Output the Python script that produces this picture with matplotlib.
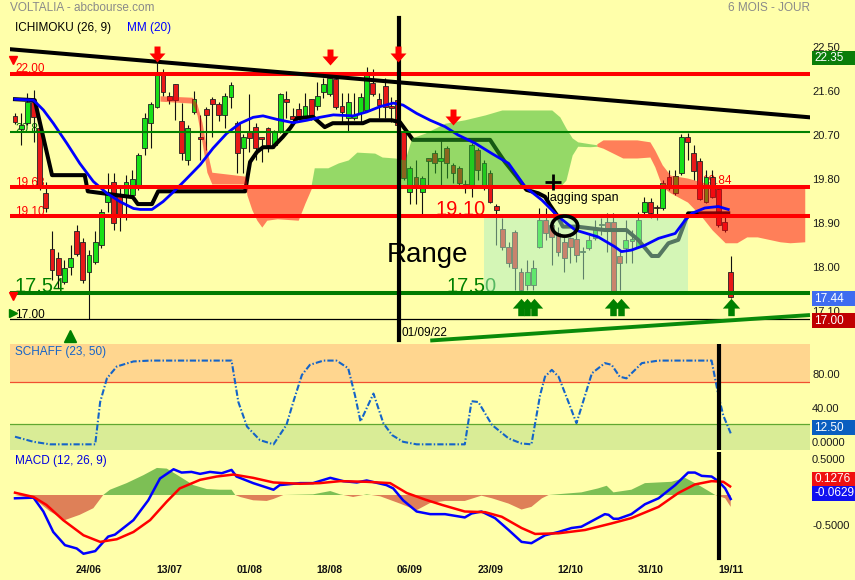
import numpy as np
import matplotlib
matplotlib.use('Agg')
import matplotlib.pyplot as plt
from matplotlib.path import Path
from matplotlib.patches import Rectangle, Ellipse
import matplotlib.transforms as mtransforms

plt.rcParams['font.family'] = ['Liberation Sans', 'DejaVu Sans']

# ---------------- data ----------------
tick_pos = [12, 25, 38, 51, 64, 77, 90, 103, 116]
tick_labels = ['24/06', '13/07', '01/08', '18/08', '06/09', '23/09', '12/10', '31/10', '19/11']

opens = [21.14, 20.87, 20.99, 21.43, 20.89, 19.57, 18.42, 18.23, 17.75, 18.06,
         18.78, 18.57, 17.96, 18.16, 18.50, 19.39, 19.78, 19.52, 19.52, 19.52,
         19.66, 20.48, 20.99, 21.33, 22.01, 21.54, 21.79, 21.03, 20.24, 21.22,
         20.70, 21.27, 21.48, 21.38, 21.16, 21.53, 20.99, 20.48, 20.82, 20.92,
         20.70, 20.89, 20.54, 20.82, 21.48, 21.14, 21.27, 21.14, 21.48, 21.34,
         21.63, 21.58, 21.89, 21.34, 21.09, 21.09, 21.19, 21.26, 21.82, 21.48,
         21.75, 21.34, 21.46, 20.82, 19.59, 19.89, 19.59, 20.27, 20.39, 20.22,
         20.48, 20.14, 20.07, 19.75, 19.69, 20.44, 19.69, 19.97, 19.30, 18.84,
         18.47, 18.76, 17.96, 17.69, 17.69, 18.47, 19.01, 18.91, 18.74, 18.57,
         18.64, 18.62, 18.37, 18.44, 18.64, 18.91, 18.98, 18.98, 18.27, 18.44,
         18.58, 18.47, 19.18, 19.38, 19.29, 19.25, 19.89, 19.57, 19.97, 20.71,
         20.38, 20.22, 19.39, 19.89, 19.64, 18.97, 17.96]
highs = [21.20, 21.20, 21.60, 21.67, 20.92, 19.80, 18.78, 18.37, 18.20, 18.50,
         18.91, 18.65, 18.40, 18.78, 19.24, 19.97, 19.97, 19.66, 19.93, 20.03,
         20.38, 21.19, 21.43, 22.22, 22.09, 21.63, 21.79, 21.40, 20.95, 21.65,
         21.16, 21.32, 21.52, 21.42, 21.61, 21.83, 21.03, 20.77, 21.59, 20.99,
         20.70, 20.92, 20.85, 21.61, 21.65, 21.30, 21.40, 21.61, 21.48, 21.84,
         21.91, 22.01, 21.91, 21.60, 21.60, 21.60, 21.60, 22.14, 22.09, 21.60,
         21.91, 21.53, 21.56, 20.85, 20.12, 20.24, 19.91, 20.27, 20.44, 20.68,
         20.52, 20.18, 20.12, 19.83, 20.59, 20.48, 20.24, 20.03, 19.34, 19.05,
         18.57, 18.81, 18.03, 18.20, 18.20, 19.25, 19.25, 18.97, 18.88, 18.67,
         18.67, 18.81, 18.47, 18.71, 19.01, 19.05, 19.16, 19.16, 18.40, 19.01,
         18.81, 19.18, 19.49, 19.46, 19.32, 19.83, 20.03, 20.03, 20.77, 20.78,
         20.54, 20.28, 20.03, 20.03, 19.71, 19.08, 18.27]
lows = [20.97, 20.54, 20.95, 20.61, 19.63, 19.18, 17.79, 17.63, 17.71, 17.89,
        18.28, 17.73, 16.99, 18.12, 18.44, 19.18, 18.81, 18.78, 19.01, 19.48,
        19.63, 20.34, 20.48, 21.30, 21.54, 21.38, 21.05, 20.24, 20.14, 21.18,
        20.24, 20.44, 20.71, 21.03, 20.89, 21.30, 19.97, 19.97, 20.41, 20.24,
        20.20, 20.41, 20.48, 20.79, 21.09, 20.95, 21.05, 21.10, 21.05, 21.26,
        21.50, 21.54, 21.28, 21.02, 20.84, 21.05, 21.02, 21.22, 21.54, 21.09,
        21.09, 21.02, 20.85, 19.83, 19.35, 19.35, 19.12, 19.73, 19.97, 19.73,
        19.87, 19.77, 19.71, 19.56, 19.49, 19.83, 19.63, 19.36, 18.50, 18.40,
        18.06, 17.59, 17.55, 17.59, 17.59, 18.44, 18.61, 18.10, 18.27, 17.96,
        18.14, 18.16, 17.82, 18.40, 18.61, 18.71, 18.37, 17.54, 17.59, 18.14,
        18.13, 18.44, 19.12, 19.05, 19.01, 19.22, 19.63, 19.52, 19.93, 20.24,
        19.83, 19.42, 19.36, 19.46, 18.87, 18.77, 17.42]
closes = [21.02, 20.95, 21.43, 21.12, 19.66, 19.25, 17.99, 17.89, 18.03, 18.23,
          18.33, 17.79, 18.30, 18.57, 19.18, 19.56, 18.96, 19.12, 19.80, 19.85,
          20.34, 21.09, 21.38, 21.98, 21.63, 21.46, 21.46, 20.38, 20.89, 21.48,
          20.67, 21.16, 21.38, 21.16, 21.54, 21.78, 20.38, 20.71, 20.68, 20.48,
          20.67, 20.54, 20.82, 21.58, 21.43, 21.08, 21.14, 21.34, 21.14, 21.54,
          21.79, 21.91, 21.33, 21.22, 21.43, 21.16, 21.53, 22.01, 21.58, 21.36,
          21.33, 21.31, 20.95, 19.87, 20.07, 19.73, 19.87, 20.22, 20.17, 20.27,
          20.17, 19.97, 19.76, 19.72, 20.54, 20.03, 20.17, 19.39, 19.22, 18.47,
          18.14, 18.03, 17.59, 17.96, 18.03, 19.01, 18.74, 18.67, 18.37, 18.23,
          18.47, 18.30, 18.39, 18.61, 18.84, 18.93, 18.84, 17.55, 18.13, 18.61,
          18.63, 19.01, 19.38, 19.16, 19.25, 19.76, 19.66, 19.91, 20.71, 20.61,
          20.02, 19.45, 19.89, 19.49, 18.91, 18.81, 17.44]

kijun_x = [0, 3.2, 6.0, 11.3, 11.8, 19.1, 19.9, 22.2, 23.2, 37.3, 38.1, 39.2, 40.2, 41.8,
           43.4, 44.6, 45.7, 48.3, 50.2, 51.5, 56.4, 57.5, 61.1, 62.4, 64.5, 77.0, 78.1,
           79.4, 81.3, 82.9, 84.8, 85.9, 86.7, 87.8, 88.8, 91.0, 95.6, 99.1, 101.0, 103.2,
           104.3, 105.9, 107.5, 109.1, 115.6]
kijun_y = [21.48, 21.46, 19.93, 19.93, 19.60, 19.48, 19.34, 19.34, 19.60, 19.60, 20.20,
           20.40, 20.50, 20.50, 20.71, 20.89, 21.09, 21.12, 20.91, 20.99, 20.99, 21.05,
           21.05, 21.01, 20.65, 20.65, 20.44, 20.20, 19.90, 19.63, 19.56, 19.49, 19.32,
           19.12, 18.88, 18.88, 18.81, 18.81, 18.61, 18.28, 18.28, 18.54, 18.61, 19.15, 19.15]

ma_x = [0, 3.0, 4.6, 6.2, 8.4, 10.5, 12.7, 14.9, 17.0, 19.2, 20.3, 22.2, 24.0, 25.7,
        27.6, 30.0, 32.1, 34.3, 36.5, 38.6, 40.2, 42.4, 45.1, 47.3, 49.4, 51.6, 54.8,
        57.0, 59.2, 61.3, 62.9, 65.1, 67.3, 69.7, 71.8, 74.6, 77.3, 80.0, 82.7, 85.4,
        88.1, 90.8, 94.5, 97.2, 98.3, 99.9, 102.1, 104.3, 107.0, 108.6, 109.7, 111.8,
        114.0, 115.6]
ma_y = [21.48, 21.46, 21.26, 20.99, 20.58, 20.17, 19.80, 19.56, 19.39, 19.25, 19.23,
        19.23, 19.39, 19.59, 19.83, 20.14, 20.48, 20.78, 20.99, 21.11, 21.14, 21.07,
        21.00, 21.05, 21.11, 21.16, 21.14, 21.22, 21.33, 21.40, 21.36, 21.19, 21.05,
        20.92, 20.75, 20.58, 20.37, 20.17, 19.69, 19.42, 19.08, 18.81, 18.67, 18.47,
        18.37, 18.40, 18.50, 18.64, 18.74, 19.01, 19.15, 19.26, 19.29, 19.23]

# Ichimoku cloud segments (x, upper span, lower span)
red1_x = [23.5, 28.7, 29.5, 30.3, 31.1, 31.9, 37.3, 37.6, 38.4, 39.2, 40.0, 40.8, 42.5, 45.9, 47.0, 48.0]
red1_hi = [21.55, 21.52, 21.38, 21.01, 20.44, 19.99, 19.91, 19.71, 19.69, 19.69, 19.69, 19.69, 19.69, 19.69, 19.69, 19.69]
red1_lo = [21.44, 21.40, 21.16, 20.61, 19.99, 19.75, 19.75, 19.52, 19.22, 19.01, 18.87, 19.01, 19.04, 19.01, 19.36, 19.65]
green_x = [48.0, 48.5, 50.7, 52.4, 54.0, 55.4, 58.3, 59.5, 61.6, 63.2, 64.3, 66.5, 69.7, 72.9,
           76.2, 78.9, 87.0, 88.3, 89.3, 90.3, 91.2, 93.2, 94.3]
green_hi = [19.73, 20.08, 20.08, 20.18, 20.24, 20.40, 20.38, 20.30, 20.28, 20.24, 20.69, 20.79,
            20.99, 21.06, 21.16, 21.26, 21.26, 21.12, 20.89, 20.69, 20.61, 20.57, 20.55]
green_lo = [19.69, 19.69, 19.69, 19.69, 19.69, 19.69, 19.69, 19.69, 19.69, 19.69, 19.69, 19.69,
            19.69, 19.69, 19.69, 19.69, 19.69, 19.69, 19.83, 20.34, 20.52, 20.51, 20.52]
red2_x = [94.3, 95.3, 98.5, 100.8, 102.9, 103.7, 104.9, 106.2, 109.0, 111.3, 113.0, 115.1,
          117.0, 118.6, 120.3, 124.0, 125.6, 128.0]
red2_hi = [20.57, 20.65, 20.65, 20.65, 20.61, 20.44, 20.14, 19.93, 19.87, 19.79, 19.73, 19.67,
           19.67, 19.67, 19.67, 19.67, 19.67, 19.67]
red2_lo = [20.52, 20.48, 20.28, 20.28, 20.30, 20.10, 19.69, 19.57, 19.38, 19.08, 18.81, 18.55,
           18.55, 18.67, 18.67, 18.57, 18.55, 18.57]

red_levels = [22.00, 19.68, 19.10]
green_thin_level = 20.81
green_thick_level = 17.52
black_level = 17.00
range_box = (76.0, 109.1, 17.54, 19.10)
down_trend = ([-0.81, 128.85], [22.50, 21.11])
up_trend = ([67.3, 128.85], [16.555, 17.075])

sell_x = [23.0, 51.05, 62.07, 71.04]
sell_y = [22.40, 22.35, 22.40, 21.11]
buy_x = [82.0, 83.0, 84.1, 96.9, 98.2, 116.0]
buy_y = [17.23, 17.23, 17.23, 17.23, 17.23, 17.23]

schaff_x = [0, 3.0, 5.7, 13.0, 13.8, 14.9, 16.5, 19.2, 21.9, 35.1, 36.2, 37.6, 39.7, 41.9,
            44.0, 45.1, 46.5, 47.8, 50.0, 52.1, 54.0, 55.1, 56.0, 58.1, 59.7, 61.1, 62.9,
            65.1, 72.9, 74.0, 75.1, 77.3, 80.0, 82.1, 83.7, 85.1, 85.9, 87.0, 88.1, 89.7,
            91.0, 92.4, 93.5, 95.6, 96.7, 98.0, 99.1, 101.6, 104.3, 107.5, 112.9, 114.0,
            114.8, 116.0]
schaff_v = [10, 4, 1, 1, 51, 79, 93, 99, 100, 100, 51, 22, 6, 1, 24, 51, 83, 95, 100, 100,
            91, 59, 28, 61, 26, 12, 4, 1, 1, 52, 51, 24, 8, 2, 1, 59, 81, 89, 81, 51, 26, 59,
            85, 97, 95, 81, 79, 97, 100, 100, 100, 59, 35, 14]

macd_x = [0, 3.0, 4.6, 6.2, 8.1, 10.0, 11.1, 13.0, 15.1, 16.2, 19.2, 21.6, 23.5, 25.7, 27.0,
          28.6, 30.0, 31.6, 33.5, 35.1, 35.9, 38.6, 41.9, 42.9, 46.2, 48.3, 51.1, 53.2, 55.4,
          57.0, 60.2, 61.3, 62.9, 65.1, 67.3, 69.7, 72.9, 74.0, 75.6, 77.8, 80.0, 82.1, 83.7,
          85.9, 88.1, 90.2, 91.8, 94.0, 95.6, 96.2, 97.0, 97.8, 99.9, 102.1, 104.3, 107.0,
          109.1, 110.2, 111.3, 112.9, 114.0, 115.1, 116.0]
macd_v = [-0.05, -0.04, -0.25, -0.56, -0.76, -0.81, -0.89, -0.85, -0.63, -0.60, -0.38, -0.08,
          0.25, 0.39, 0.34, 0.35, 0.32, 0.35, 0.33, 0.38, 0.28, 0.18, 0.08, 0.15, 0.18, 0.18,
          0.26, 0.21, 0.19, 0.22, 0.15, 0.10, -0.08, -0.25, -0.29, -0.29, -0.34, -0.28, -0.25,
          -0.35, -0.53, -0.71, -0.73, -0.61, -0.56, -0.50, -0.48, -0.37, -0.29, -0.30, -0.36,
          -0.36, -0.29, -0.14, -0.05, 0.15, 0.34, 0.34, 0.29, 0.28, 0.21, 0.10, -0.06]
signal_x = [0, 3.0, 5.1, 7.8, 11.1, 13.8, 16.5, 19.2, 21.9, 24.6, 26.7, 30.0, 32.7, 35.4, 38.6,
            41.9, 46.2, 49.4, 52.7, 57.0, 60.8, 63.5, 66.5, 69.2, 72.9, 76.2, 78.9, 82.1, 84.3,
            88.1, 92.4, 96.7, 99.9, 104.3, 107.5, 110.2, 112.9, 114.8, 115.9]
signal_v = [0.035, -0.03, -0.15, -0.38, -0.61, -0.71, -0.67, -0.56, -0.38, -0.10, 0.10, 0.23,
            0.28, 0.31, 0.26, 0.19, 0.17, 0.18, 0.21, 0.20, 0.18, 0.03, -0.07, -0.15, -0.25,
            -0.26, -0.33, -0.50, -0.59, -0.58, -0.53, -0.43, -0.35, -0.18, 0.03, 0.16, 0.21,
            0.20, 0.13]
hist_x = [0, 3.0, 5.7, 8.1, 10.5, 12.7, 14.3, 15.4, 18.1, 20.8, 23.0, 24.6, 26.7, 28.9, 31.1,
          33.2, 35.1, 35.7, 36.5, 38.6, 40.8, 41.9, 43.5, 48.3, 51.1, 52.7, 54.8, 57.0, 59.2,
          62.4, 65.1, 67.3, 69.7, 72.9, 75.6, 77.3, 80.0, 82.1, 83.7, 85.4, 86.5, 89.1, 91.8,
          94.5, 95.9, 97.0, 99.9, 102.1, 106.4, 108.6, 110.8, 113.5, 115.1, 116.0]
hist_v = [0, -0.05, -0.25, -0.38, -0.30, -0.20, 0, 0.08, 0.18, 0.30, 0.41, 0.40, 0.28, 0.15,
          0.09, 0.08, 0.08, 0, -0.03, -0.08, -0.09, -0.06, 0, 0.01, 0.06, 0.01, -0.03, 0.01,
          -0.02, -0.13, -0.23, -0.12, -0.09, -0.09, -0.01, -0.05, -0.13, -0.22, -0.18, -0.05,
          0, 0.02, 0.04, 0.10, 0.14, 0.04, 0.08, 0.18, 0.20, 0.26, 0.15, 0, -0.05, -0.18]

# ---------------- figure ----------------
BG = '#FFFFAA'
W, H = 855, 580
fig = plt.figure(figsize=(W / 100, H / 100), dpi=100, facecolor=BG)


def axes_px(x0, x1, y0, y1):
    return fig.add_axes([x0 / W, 1 - y1 / H, (x1 - x0) / W, (y1 - y0) / H])


ax = axes_px(10, 810, 38, 322)
axs = axes_px(10, 810, 344, 450)
axm = axes_px(10, 810, 452, 562)
for a in (ax, axs, axm):
    a.set_facecolor('none')
    for s in a.spines.values():
        s.set_visible(False)
    a.set_xlim(-0.81, 128.85)
    a.set_yticks([])
    a.set_xticks([])
ax.set_ylim(16.933, 22.729)
axs.set_ylim(-5.7, 119.6)
axm.set_ylim(-1.015, 0.6515)

# ---- main panel ----
o = np.array(opens); h = np.array(highs); l = np.array(lows); c = np.array(closes)
idx = np.arange(len(o))
upc = c >= o
ax.vlines(idx, l, h, color='#111111', lw=0.8, zorder=2)
bottoms = np.minimum(o, c)
heights = np.maximum(np.abs(c - o), 0.02)
ax.bar(idx, heights, bottom=bottoms, width=0.78,
       color=np.where(upc, '#18E018', '#E81818'), edgecolor='#222222',
       linewidth=0.6, zorder=2.1)

ax.plot(kijun_x, kijun_y, color='black', lw=2.9, zorder=3, solid_joinstyle='round')

ax.fill_between(red1_x, red1_lo, red1_hi, color='#FF000A', alpha=0.5, lw=0, zorder=4)
ax.fill_between(green_x, green_lo, green_hi, color='#2DB526', alpha=0.5, lw=0, zorder=4)
ax.fill_between(red2_x, red2_lo, red2_hi, color='#FF000A', alpha=0.5, lw=0, zorder=4)

bx0, bx1, blo, bhi = range_box
ax.add_patch(Rectangle((bx0, blo), bx1 - bx0, bhi - blo, fc='#ABEFC2', alpha=0.5,
                       lw=0, zorder=4.5))

ax.plot(ma_x, ma_y, color='#0000FF', lw=2.0, zorder=5)

for v in red_levels:
    ax.axhline(v, color='#FF0000', lw=2.9, zorder=6)
ax.axhline(green_thin_level, color='#008000', lw=1.5, zorder=6)
ax.axhline(green_thick_level, color='#007A00', lw=2.9, zorder=6)
ax.axhline(black_level, color='black', lw=0.9, zorder=6)

ax.plot(*down_trend, color='black', lw=2.9, zorder=6.5)
ax.plot(*up_trend, color='#0A8A0A', lw=2.8, zorder=6.5, clip_on=False,
        solid_capstyle='butt')

ax.plot([62.24, 62.24], [16.565, 23.14], color='black', lw=3, zorder=7, clip_on=False)

down_arrow = Path([(-3, 8), (3, 8), (3, 1), (8, 1), (0, -8), (-8, 1), (-3, 1), (-3, 8)],
                  [Path.MOVETO] + [Path.LINETO] * 6 + [Path.CLOSEPOLY])
up_arrow = Path([(-3, -8), (3, -8), (3, -1), (8, -1), (0, 8), (-8, -1), (-3, -1), (-3, -8)],
                [Path.MOVETO] + [Path.LINETO] * 6 + [Path.CLOSEPOLY])
ax.plot(sell_x, sell_y, ls='none', marker=down_arrow, ms=11.5, color='#FF0000',
        mec='none', zorder=8, clip_on=False)
ax.plot(buy_x, buy_y, ls='none', marker=up_arrow, ms=12.5, color='#008000',
        mec='none', zorder=8, clip_on=False)
ax.plot([8.9], [16.647], ls='none', marker='^', ms=9, color='#008000', clip_on=False, zorder=8)
ax.plot([-0.3], [22.28], ls='none', marker='v', ms=6, color='#FF0000', clip_on=False, zorder=8)
ax.plot([-0.3], [17.47], ls='none', marker='v', ms=6, color='#FF0000', clip_on=False, zorder=8)
ax.plot([-0.3], [17.12], ls='none', marker='>', ms=6, color='#008000', clip_on=False, zorder=8)

ax.add_patch(Ellipse((89.1, 18.89), 4.2, 0.41, fill=False, ec='black', lw=2.6, zorder=8))
ax.plot([87.2], [19.80], marker='+', ms=11, mew=2, color='black', zorder=8)

tk = dict(zorder=1.5, va='baseline')
ax.text(0, 22.03, '22.00', color='#FF0000', fontsize=8.5, **tk)
ax.text(0, 20.82, '20.81', color='#008000', fontsize=8.5, **tk)
ax.text(0, 19.70, '19.68', color='#FF0000', fontsize=8.5, **tk)
ax.text(0, 19.12, '19.10', color='#FF0000', fontsize=8.5, **tk)
ax.text(0, 17.545, '17.54', color='#008000', fontsize=14.5, **tk)
ax.text(70.0, 17.545, '17.50', color='#008000', fontsize=14.5, **tk)
ax.text(0, 17.01, '17.00', color='black', fontsize=8.5, **tk)
ax.text(68.2, 19.12, '19.10', color='#FF0000', fontsize=14.5, **tk)
ax.text(111.3, 19.74, '19.84', color='#FF0000', fontsize=8.5, **tk)
ax.text(60.3, 18.157, 'Range', color='black', fontsize=20, zorder=6.8, va='baseline')
ax.text(86.2, 19.40, 'lagging span', color='black', fontsize=9, zorder=8, va='baseline')
ax.text(62.6, 16.708, '01/09/22', color='black', fontsize=8.5, va='center', clip_on=False)

# ---- Schaff panel ----
axs.axhspan(75, 119.6, color='#FFD68F', lw=0, zorder=0)
axs.axhspan(-5.7, 25, color='#D9EC96', lw=0, zorder=0)
axs.axhline(75, color='#F05030', lw=0.9, zorder=1)
axs.axhline(25, color='#60A830', lw=0.9, zorder=1)
axs.plot(schaff_x, schaff_v, color='#1464C8', lw=1.5, ls=(0, (3, 1, 0.7, 1)), zorder=3)
axs.axvline(114.1, color='black', lw=3, zorder=4)

# ---- MACD panel ----
hx = np.array(hist_x); hv = np.array(hist_v)
axm.fill_between(hx, 0, hv, where=hv >= 0, interpolate=True, color='#7DBF55', lw=0, zorder=1)
axm.fill_between(hx, 0, hv, where=hv <= 0, interpolate=True, color='#DE8058', lw=0, zorder=1)
axm.plot(macd_x, macd_v, color='#0000FF', lw=1.8, zorder=3)
axm.plot(signal_x, signal_v, color='#FF0000', lw=1.8, zorder=3)
axm.axvline(114.1, ymin=0.036, color='black', lw=3, zorder=4)
axm.set_xticks(tick_pos)
axm.set_xticklabels(tick_labels, fontsize=7.5, fontweight='bold', color='#111111')
axm.tick_params(axis='x', length=0, pad=2)

# ---- right-side scale labels ----
def rlabels(a, vals, texts, dy):
    tr = mtransforms.offset_copy(a.get_yaxis_transform(), fig=fig, y=dy, units='dots')
    for v, t in zip(vals, texts):
        a.text(1.0025, v, t, transform=tr, fontsize=8, color='#1a1a1a', va='center',
               ha='left', clip_on=False)

rlabels(ax, [22.5, 21.6, 20.7, 19.8, 18.9, 18.0, 17.1],
        ['22.50', '21.60', '20.70', '19.80', '18.90', '18.00', '17.10'], 1.5)
rlabels(axs, [80, 40, 0], ['80.00', '40.00', '0.0000'], 2.5)
rlabels(axm, [0.5, -0.5], ['0.5000', '-0.5000'], 2.0)


def vbox(a, v, txt, fc, dy):
    yd = a.transData.transform((0, v))[1] + dy
    hgt = 14.5
    fig.add_artist(Rectangle((812 / W, (yd - hgt / 2) / H), 43 / W, hgt / H,
                             transform=fig.transFigure, fc=fc, ec='none', zorder=10))
    fig.text(814 / W, yd / H, txt, color='white', fontsize=8.5, va='center', ha='left',
             zorder=11)

vbox(ax, 22.35, '22.35', '#0A7D0A', -1.4)
vbox(ax, 17.44, '17.44', '#3F6CF0', -1.4)
vbox(ax, 17.00, '17.00', '#C00000', -1.8)
vbox(axs, 12.5, '12.50', '#0A5EC0', 7.0)
vbox(axm, 0.1276, '0.1276', '#F01010', 7.1)
vbox(axm, -0.0629, '-0.0629', '#1010F0', 5.7)

# ---- headers ----
fig.text(10 / W, 1 - 8 / H, 'VOLTALIA - abcbourse.com', color='#8A8A8A', fontsize=8.5, va='center')
fig.text(810 / W, 1 - 8 / H, '6 MOIS - JOUR', color='#8A8A8A', fontsize=8.5, va='center', ha='right')
fig.text(15 / W, 1 - 28 / H, 'ICHIMOKU (26, 9)', color='black', fontsize=8.5, va='center')
fig.text(127 / W, 1 - 28 / H, 'MM (20)', color='#0000FF', fontsize=8.5, va='center')
fig.text(15 / W, 1 - 352 / H, 'SCHAFF (23, 50)', color='#1464C8', fontsize=8.5, va='center')
fig.text(15 / W, 1 - 461 / H, 'MACD (12, 26, 9)', color='#0000E0', fontsize=8.5, va='center')

fig.savefig('out.png', dpi=100, facecolor=BG)
